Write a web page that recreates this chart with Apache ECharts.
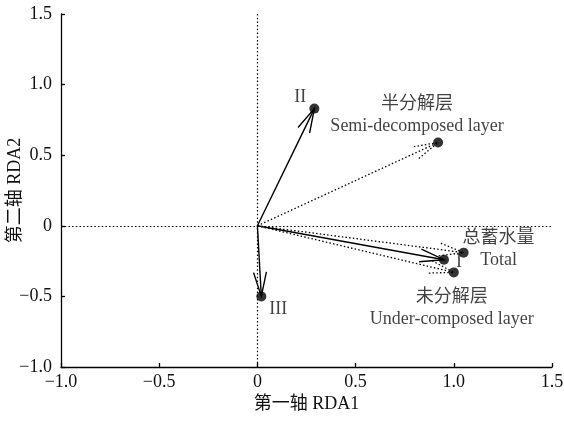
<!DOCTYPE html>
<html>
<head>
<meta charset="utf-8">
<script src="https://cdn.jsdelivr.net/npm/echarts@6/dist/echarts.min.js"></script>
<style>
  html, body { margin: 0; padding: 0; background: #fff; }
  #main { width: 564px; height: 422px; }
</style>
</head>
<body>
<div id="main"></div>
<script>
  // samples (solid arrows)
  var sampleNames = ['II', 'I', 'III'];
  var sampleX = [0.29, 0.95, 0.02];
  var sampleY = [0.83, -0.24, -0.50];
  // environment variables (dotted arrows)
  var envNames = ['半分解层\nSemi-decomposed layer', '总蓄水量\nTotal', '未分解层\nUnder-composed layer'];
  var envX = [0.92, 1.05, 1.00];
  var envY = [0.59, -0.19, -0.33];
  var axisMin = -1.0;
  var axisMax = 1.5;
  var axisStep = 0.5;

  var font = "'Liberation Serif', 'Noto Sans CJK SC', serif";
  var textColor = '#111';

  function tickLabel (v) {
    if (Math.abs(v) < 1e-9) return '0';
    return v.toFixed(1).replace('-', '\u2212');
  }

  function arrowRender (dotted) {
    return function (params, api) {
      var o = api.coord([0, 0]);
      var p = api.coord([api.value(0), api.value(1)]);
      var ang = Math.atan2(p[1] - o[1], p[0] - o[0]);
      var len = 25;
      var spread = 0.26;
      var a1 = [p[0] - len * Math.cos(ang - spread), p[1] - len * Math.sin(ang - spread)];
      var a2 = [p[0] - len * Math.cos(ang + spread), p[1] - len * Math.sin(ang + spread)];
      var style = {
        stroke: '#000',
        fill: null,
        lineWidth: dotted ? 1.3 : 1.4,
        lineDash: dotted ? [1.5, 2.2] : null
      };
      return {
        type: 'group',
        children: [
          {type: 'line', shape: {x1: o[0], y1: o[1], x2: p[0], y2: p[1]}, style: style},
          {type: 'polyline', shape: {points: [a1, p, a2]}, style: style}
        ]
      };
    };
  }

  function pairs (xs, ys) {
    var out = [];
    for (var i = 0; i < xs.length; i++) out.push([xs[i], ys[i]]);
    return out;
  }

  var sampleOffsets = [[-14, -11], [15, 3], [17, 13]];
  var envOffsets = [[-21, -27], [35, -3], [-2, 36]];

  function labelled (xs, ys, names, offsets) {
    var out = [];
    for (var i = 0; i < xs.length; i++) {
      out.push({
        value: [xs[i], ys[i]],
        name: names[i],
        label: {offset: offsets[i]}
      });
    }
    return out;
  }

  var axisCommon = {
    type: 'value',
    min: axisMin,
    max: axisMax,
    interval: axisStep,
    nameLocation: 'middle',
    nameMoveOverlap: false,
    nameTextStyle: {fontFamily: font, fontSize: 18, color: textColor},
    axisLine: {show: true, onZero: false, lineStyle: {color: '#000', width: 1.3}},
    axisTick: {show: true, inside: true, length: 4, lineStyle: {color: '#000', width: 1.3}},
    splitLine: {show: false},
    axisLabel: {fontFamily: font, fontSize: 18, color: textColor, formatter: tickLabel}
  };

  var chart = echarts.init(document.getElementById('main'));
  chart.setOption({
    animation: false,
    backgroundColor: '#fff',
    grid: {left: 61, right: 12, top: 14, bottom: 55, containLabel: false, outerBoundsMode: 'none'},
    xAxis: echarts.util.merge({
      name: '第一轴 RDA1',
      nameGap: 28,
      axisLabel: {margin: 6}
    }, axisCommon),
    yAxis: echarts.util.merge({
      name: '第二轴 RDA2',
      nameGap: 37,
      axisLabel: {margin: 9}
    }, axisCommon),
    series: [
      {
        type: 'custom',
        renderItem: arrowRender(true),
        data: pairs(envX, envY),
        z: 2,
        silent: true
      },
      {
        type: 'custom',
        renderItem: arrowRender(false),
        data: pairs(sampleX, sampleY),
        z: 2,
        silent: true
      },
      {
        type: 'scatter',
        symbolSize: 10,
        itemStyle: {color: '#000'},
        z: 3,
        label: {
          show: true,
          position: 'inside',
          formatter: '{b}',
          fontFamily: font,
          fontSize: 18,
          lineHeight: 22,
          color: textColor,
          align: 'center',
          verticalAlign: 'middle'
        },
        data: labelled(sampleX, sampleY, sampleNames, sampleOffsets),
        markLine: {
          silent: true,
          symbol: 'none',
          label: {show: false},
          lineStyle: {color: '#000', width: 1.2, type: [1.5, 2.2]},
          data: [{xAxis: 0}, {yAxis: 0}]
        }
      },
      {
        type: 'scatter',
        symbolSize: 10,
        itemStyle: {color: '#000'},
        z: 3,
        label: {
          show: true,
          position: 'inside',
          formatter: '{b}',
          fontFamily: font,
          fontSize: 18,
          lineHeight: 22,
          color: textColor,
          align: 'center',
          verticalAlign: 'middle'
        },
        data: labelled(envX, envY, envNames, envOffsets)
      }
    ]
  });
</script>
</body>
</html>
